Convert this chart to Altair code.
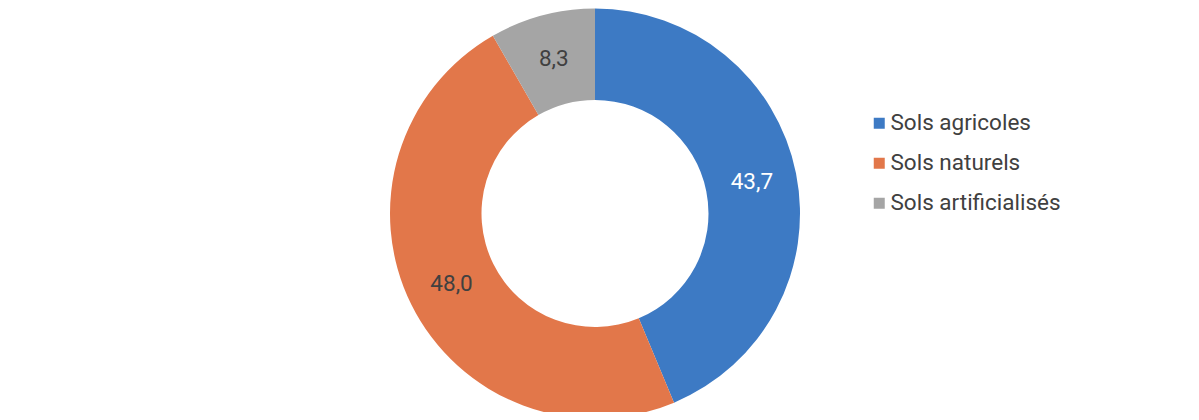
import altair as alt
import pandas as pd

categories = ["Sols agricoles", "Sols naturels", "Sols artificialisés"]
values = [43.7, 48.0, 8.3]
labels = ["43,7", "48,0", "8,3"]
colors = ["#3D7AC4", "#E2774A", "#A5A5A5"]
label_colors = ["#FFFFFF", "#404040", "#404040"]

df = pd.DataFrame({
    "cat": categories,
    "value": values,
    "label": labels,
    "order": [0, 1, 2],
    "lc": label_colors,
})

CX, CY = 587, 205.5

base = alt.Chart(df).encode(
    theta=alt.Theta("value:Q", stack=True),
    order=alt.Order("order:Q"),
)

arc = base.mark_arc(outerRadius=205, innerRadius=113.5).encode(
    color=alt.Color(
        "cat:N",
        scale=alt.Scale(domain=categories, range=colors),
        legend=alt.Legend(
            title=None, orient="none", legendX=860, legendY=104,
            symbolType="square", symbolSize=121, symbolStrokeWidth=0,
            labelFontSize=22.5, labelFont="Roboto", labelColor="#404040",
            labelOffset=0, labelLimit=400, rowPadding=17, padding=0,
        ),
        sort=categories,
    ),
    x=alt.value(CX),
    y=alt.value(CY),
)

text = base.mark_text(radius=160, font="Roboto", fontSize=22.5, baseline="middle", align="center").encode(
    text="label:N",
    color=alt.Color("lc:N", scale=None),
    x=alt.value(CX),
    y=alt.value(CY),
)

chart = alt.layer(arc, text).resolve_scale(color="independent").properties(
    width=1183, height=404, autosize=alt.AutoSizeParams(type="none"), padding=0
).configure_view(stroke=None)

chart.save("out.html", embed_options={"renderer": "svg", "actions": False})
